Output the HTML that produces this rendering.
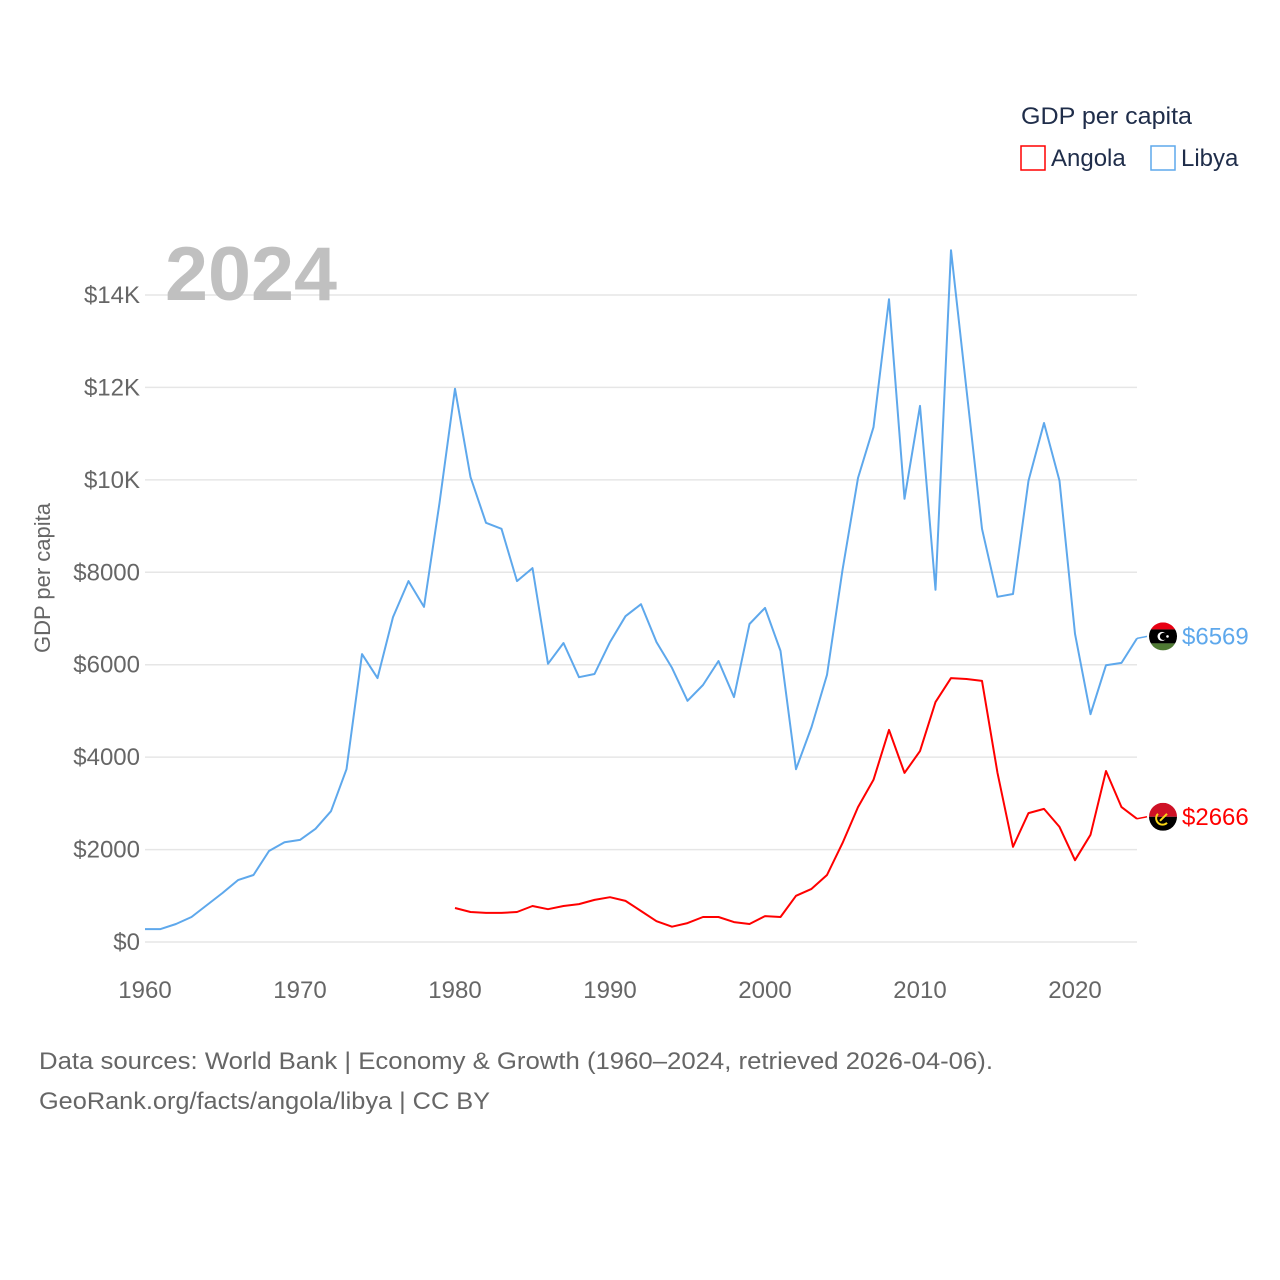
<!DOCTYPE html>
<html><head><meta charset="utf-8">
<style>
html,body{margin:0;padding:0;background:#fff;}
svg{display:block;font-family:"Liberation Sans",sans-serif;}
</style></head>
<body>
<svg id="chart" width="1280" height="1280" viewBox="0 0 1280 1280">
  <text x="1021" y="124" font-size="24" fill="#1f2d4a" textLength="171" lengthAdjust="spacingAndGlyphs">GDP per capita</text>
  <rect x="1021" y="146" width="24" height="24" fill="none" stroke="#ff0000" stroke-width="1.5"/>
  <text x="1051" y="166" font-size="24" fill="#1f2d4a">Angola</text>
  <rect x="1151" y="146" width="24" height="24" fill="none" stroke="#5ea8ec" stroke-width="1.5"/>
  <text x="1181" y="166" font-size="24" fill="#1f2d4a">Libya</text>
  <g id="grid"></g>
  <g id="yticks"></g>
  <g id="xticks"></g>
  <text x="165" y="300" font-size="76" font-weight="bold" fill="#c0c0c0" textLength="172" lengthAdjust="spacingAndGlyphs">2024</text>
  <text transform="translate(50,578) rotate(-90)" text-anchor="middle" font-size="22" fill="#666">GDP per capita</text>
  <g id="series"></g>
  <text x="39" y="1069" font-size="24" fill="#666" textLength="954" lengthAdjust="spacingAndGlyphs">Data sources: World Bank | Economy &amp; Growth (1960–2024, retrieved 2026-04-06).</text>
  <text x="39" y="1109" font-size="24" fill="#666" textLength="451" lengthAdjust="spacingAndGlyphs">GeoRank.org/facts/angola/libya | CC BY</text>
</svg>
<script>
const libyaYears = [];
for (let y = 1960; y <= 2024; y++) libyaYears.push(y);
const libyaValues = [280,280,390,540,800,1060,1340,1450,1970,2160,2210,2450,2830,3740,6230,5710,7030,7810,7250,9500,11970,10060,9070,8940,7810,8090,6020,6470,5730,5800,6490,7050,7310,6490,5930,5220,5560,6080,5300,6880,7230,6300,3740,4650,5780,8050,10040,11140,13910,9590,11600,7620,14970,11950,8940,7470,7530,9980,11230,9980,6670,4930,5990,6040,6569];
const angolaYears = [];
for (let y = 1980; y <= 2024; y++) angolaYears.push(y);
const angolaValues = [735,650,630,630,650,780,710,780,820,910,970,890,670,450,330,410,540,540,430,390,560,540,1000,1150,1450,2140,2920,3510,4590,3660,4130,5190,5710,5690,5650,3660,2060,2790,2880,2490,1770,2320,3700,2920,2666];
const yTicks = [0,2000,4000,6000,8000,10000,12000,14000];
const yTickLabels = ["$0","$2000","$4000","$6000","$8000","$10K","$12K","$14K"];
const xTicks = [1960,1970,1980,1990,2000,2010,2020];

const NS = "http://www.w3.org/2000/svg";
const X0 = 145, X1 = 1137, Y0 = 942, Y14 = 295;
const xs = yr => X0 + (yr - 1960) * (X1 - X0) / 64;
const ys = v => Y0 - v * (Y0 - Y14) / 14000;
function mk(tag, attrs, parent) {
  const e = document.createElementNS(NS, tag);
  for (const k in attrs) e.setAttribute(k, attrs[k]);
  parent.appendChild(e);
  return e;
}
const grid = document.getElementById('grid');
const yt = document.getElementById('yticks');
const xt = document.getElementById('xticks');
const ser = document.getElementById('series');
yTicks.forEach((v, i) => {
  const l = mk('line', {x1: X0, x2: X1, y1: ys(v), y2: ys(v), stroke: '#e6e6e6', 'stroke-width': 1.5}, grid);
  
  
  const t = mk('text', {x: 140, y: ys(v) + 8, 'text-anchor': 'end', 'font-size': 24, fill: '#666'}, yt);
  t.textContent = yTickLabels[i];
  
  
});
xTicks.forEach(yr => {
  const t = mk('text', {x: xs(yr), y: 998, 'text-anchor': 'middle', 'font-size': 24, fill: '#666'}, xt);
  t.textContent = yr;
  
  
});
function drawSeries(years, vals, color, name, flag) {
  const d = years.map((yr, i) => (i ? 'L' : 'M') + xs(yr).toFixed(1) + ',' + ys(vals[i]).toFixed(1)).join(' ');
  const p = mk('path', {d, fill: 'none', stroke: color, 'stroke-width': 2, 'stroke-linejoin': 'round'}, ser);
  
  
  const lx = xs(years[years.length - 1]), lv = vals[vals.length - 1], ly = ys(lv) - 2;
  const c = mk('line', {x1: lx, y1: ly + 2, x2: lx + 10, y2: ly, stroke: color, 'stroke-width': 1.5}, ser);
  
  
  const g = mk('g', {}, ser);
  
  
  const cx = 1163, r = 14;
  const clipId = 'clip-' + name;
  const cp = mk('clipPath', {id: clipId}, g);
  mk('circle', {cx, cy: ly, r}, cp);
  const gg = mk('g', {'clip-path': 'url(#' + clipId + ')'}, g);
  if (flag === 'libya') {
    mk('rect', {x: cx - r, y: ly - r, width: 2 * r, height: 7, fill: '#e70013'}, gg);
    mk('rect', {x: cx - r, y: ly - 7, width: 2 * r, height: 14, fill: '#000'}, gg);
    mk('rect', {x: cx - r, y: ly + 7, width: 2 * r, height: 7, fill: '#4f7a33'}, gg);
    mk('circle', {cx: cx - 1, cy: ly, r: 4.5, fill: '#fff'}, gg);
    mk('circle', {cx: cx + 0.5, cy: ly, r: 3.6, fill: '#000'}, gg);
    mk('circle', {cx: cx + 4.5, cy: ly, r: 1.3, fill: '#fff'}, gg);
  } else {
    mk('rect', {x: cx - r, y: ly - r, width: 2 * r, height: r, fill: '#ce1126'}, gg);
    mk('rect', {x: cx - r, y: ly, width: 2 * r, height: r, fill: '#000'}, gg);
    mk('path', {d: `M${cx-5},${ly-3} A6,6 0 0 0 ${cx+4},${ly+6}`, fill: 'none', stroke: '#f9d616', 'stroke-width': 2}, gg);
    mk('line', {x1: cx - 3, y1: ly + 4, x2: cx + 4, y2: ly - 3, stroke: '#f9d616', 'stroke-width': 2}, gg);
  }
  const t = mk('text', {x: 1182, y: ly + 8, 'font-size': 24, fill: color}, ser);
  t.textContent = '$' + lv;
  
  
}
drawSeries(libyaYears, libyaValues, '#5ea8ec', 'libya', 'libya');
drawSeries(angolaYears, angolaValues, '#ff0000', 'angola', 'angola');
</script>
</body></html>
